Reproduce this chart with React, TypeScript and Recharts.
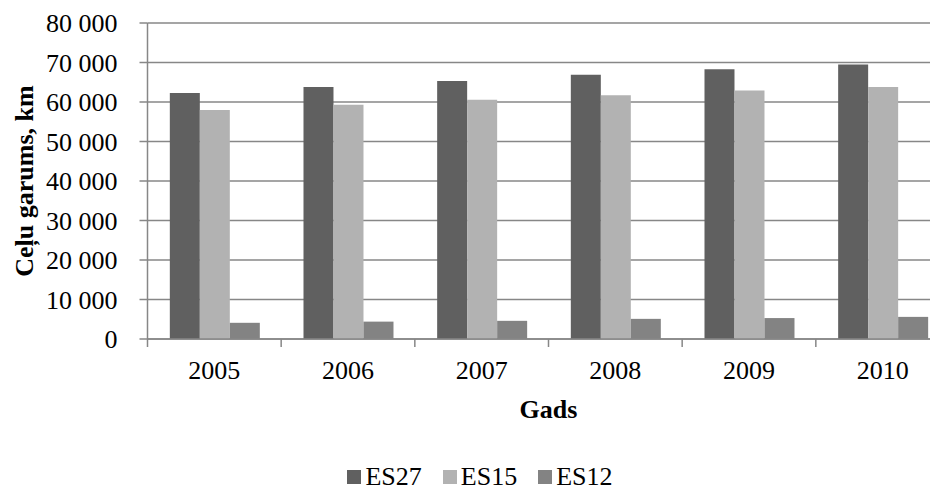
import { BarChart, Bar, XAxis, YAxis, CartesianGrid, Legend, Label } from 'recharts';

const years = ['2005', '2006', '2007', '2008', '2009', '2010'];
const es27 = [62300, 63800, 65300, 66900, 68300, 69500];
const es15 = [58000, 59300, 60600, 61700, 62900, 63800];
const es12 = [4100, 4400, 4600, 5100, 5300, 5600];
const yTicks = [0, 10000, 20000, 30000, 40000, 50000, 60000, 70000, 80000];

const series = [
  { key: 'ES27', values: es27, color: '#606060' },
  { key: 'ES15', values: es15, color: '#b2b2b2' },
  { key: 'ES12', values: es12, color: '#838383' },
];

const data = years.map((year, i) => ({
  year,
  ES27: es27[i],
  ES15: es15[i],
  ES12: es12[i],
}));

const GRID = '#878787';
const FONT = '"Liberation Serif"';

const fmt = (v: number) => String(v).replace(/\B(?=(\d{3})+(?!\d))/g, ' ');

// category label in the middle, tick mark on the left edge of the band (Excel style)
function YearTick(props: any) {
  const { x, y, payload, width, visibleTicksCount } = props;
  const half = width && visibleTicksCount ? width / visibleTicksCount / 2 : 0;
  return (
    <g>
      <line x1={x - half} x2={x - half} y1={y} y2={y + 8} stroke={GRID} strokeWidth={1.5} />
      <text x={x} y={y + 40} textAnchor="middle" fontSize={26} fontFamily={FONT} fill="#000">
        {payload.value}
      </text>
    </g>
  );
}

function LegendBox() {
  return (
    <div style={{ display: 'flex', justifyContent: 'center', alignItems: 'center', height: 20 }}>
      {series.map((s, i) => (
        <div
          key={s.key}
          style={{ display: 'flex', alignItems: 'center', marginLeft: i ? 21 : 0 }}
        >
          <span style={{ width: 14, height: 14, background: s.color, marginRight: 4 }} />
          <span style={{ fontSize: 26, lineHeight: '20px', color: '#000', fontFamily: FONT }}>
            {s.key}
          </span>
        </div>
      ))}
    </div>
  );
}

export default function App() {
  return (
    <div style={{ width: 930, height: 480, overflow: 'hidden', fontFamily: FONT }}>
      <BarChart
        width={952}
        height={480}
        data={data}
        margin={{ top: 15, right: 10.5, left: 0, bottom: 49 }}
        barCategoryGap="16.7%"
        barGap={0}
      >
        <CartesianGrid vertical={false} stroke={GRID} strokeWidth={1.5} />
        <XAxis
          dataKey="year"
          height={100}
          interval={0}
          tickSize={0}
          tickMargin={0}
          tick={<YearTick />}
          axisLine={{ stroke: GRID, strokeWidth: 1.5 }}
        >
          <Label
            value="Gads"
            position="insideTop"
            offset={61}
            fill="#000"
            fontSize={26}
            fontWeight="bold"
            fontFamily={FONT}
          />
        </XAxis>
        <YAxis
          width={139.5}
          domain={[0, 80000]}
          ticks={yTicks}
          interval={0}
          tickFormatter={fmt}
          tickSize={8}
          tickMargin={22}
          tick={{ fill: '#000', fontSize: 26, fontFamily: FONT }}
          axisLine={{ stroke: GRID, strokeWidth: 1.5 }}
          tickLine={{ stroke: GRID, strokeWidth: 1.5 }}
        >
          <Label
            value="Ceļu garums, km"
            angle={-90}
            position="insideLeft"
            offset={16}
            fill="#000"
            fontSize={26}
            fontWeight="bold"
            fontFamily={FONT}
            style={{ textAnchor: 'middle' }}
          />
        </YAxis>
        <Legend
          layout="horizontal"
          verticalAlign="middle"
          align="center"
          wrapperStyle={{ left: 0, top: 459, width: 944 }}
          content={<LegendBox />}
        />
        {series.map((s) => (
          <Bar key={s.key} dataKey={s.key} fill={s.color} isAnimationActive={false} />
        ))}
      </BarChart>
    </div>
  );
}
